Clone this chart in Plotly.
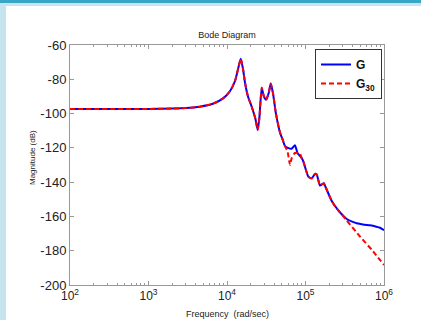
import plotly.graph_objects as go

# frequency (rad/sec) and magnitude (dB)
freq_G = [100, 1000, 2000, 3000, 4500, 6600, 9000, 10900, 12650, 14000, 14960, 16000,
          16960, 18500, 20640, 23000, 24600, 25800, 27700, 29500, 31400, 34000, 36060,
          38500, 42000, 47300, 51000, 54800, 59800, 66700, 73400, 79000, 84000, 89500,
          94000, 108700, 120000, 132000, 139000, 153000, 165000, 172000, 177000,
          216000, 262000, 300000, 335000, 400000, 449000, 560000, 664000, 800000,
          889000, 1000000]
mag_G = [-97.3, -97.3, -97.1, -96.8, -96.0, -94.3, -91.0, -87.0, -81.0, -73.0, -68.0, -74.0,
         -82.0, -90.0, -96.0, -103.0, -109.5, -103.0, -85.0, -90.0, -92.0, -88.0, -82.5,
         -88.0, -100.0, -111.0, -115.0, -119.0, -120.0, -120.5, -118.5, -123.0, -124.5, -126.0,
         -128.0, -136.8, -137.8, -135.2, -135.5, -142.0, -141.0, -140.7, -142.0,
         -151.0, -156.5, -159.5, -161.5, -163.2, -164.0, -164.8, -165.2, -166.0,
         -166.6, -168.0]

freq_G30 = [100, 1000, 2000, 3000, 4500, 6600, 9000, 10900, 12650, 14000, 14960, 16000,
            16960, 18500, 20640, 23000, 24600, 25800, 27700, 29500, 31400, 34000, 36060,
            38500, 42000, 47300, 51000, 54800, 59000, 63500, 66700, 73400, 84000, 89500,
            94000, 108700, 120000, 132000, 139000, 153000, 165000, 172000, 177000,
            216000, 240000, 330000, 500000, 700000, 1000000]
mag_G30 = [-97.3, -97.3, -97.1, -96.8, -96.0, -94.3, -91.0, -87.0, -81.0, -73.0, -68.0, -74.0,
           -82.0, -90.0, -96.0, -103.0, -109.5, -103.0, -85.0, -90.0, -92.0, -88.0, -82.5,
           -88.0, -100.0, -111.0, -115.0, -119.0, -122.0, -130.0, -126.0, -123.0, -123.0, -126.0,
           -128.0, -136.8, -137.8, -135.2, -135.5, -142.0, -141.0, -140.7, -142.0,
           -151.0, -154.3, -162.0, -172.0, -179.5, -188.3]

x_tick_vals = [100, 1000, 10000, 100000, 1000000]
x_tick_text = ["10<sup>2</sup>", "10<sup>3</sup>", "10<sup>4</sup>", "10<sup>5</sup>", "10<sup>6</sup>"]
x_minor_vals = [k * 10 ** d for d in range(2, 6) for k in range(2, 10)]
y_tick_vals = [-60, -80, -100, -120, -140, -160, -180, -200]
y_tick_text = ["-60", "-80", "-100", "-120", "-140", "-160", "-180", "-200"]

fig = go.Figure()
fig.add_trace(go.Scatter(x=freq_G, y=mag_G, mode="lines", name="<b>G</b>",
                         line=dict(color="#0000ff", width=2, shape="spline", smoothing=0.5)))
fig.add_trace(go.Scatter(x=freq_G30, y=mag_G30, mode="lines", name="<b>G<sub>30</sub></b>",
                         line=dict(color="#ff0000", width=2, dash="5px,3px", shape="spline", smoothing=0.5)))

axis_col = "#999999"
fig.update_layout(
    width=421, height=320,
    margin=dict(l=70, r=37, t=45, b=35),
    paper_bgcolor="white", plot_bgcolor="white",
    font=dict(family="Liberation Sans, Arial, sans-serif", color="#222222"),
    title=dict(text="Bode Diagram", x=227 / 421, xanchor="center", y=1 - 35 / 320, yanchor="middle",
               font=dict(size=9, color="#222222")),
    showlegend=True,
    legend=dict(x=(315 - 70) / 314, y=(285 - 49) / 240, xanchor="left", yanchor="top",
                bgcolor="white", bordercolor="#333333", borderwidth=1,
                font=dict(size=12, color="#111111"), tracegroupgap=0, itemwidth=30),
    xaxis=dict(type="log", range=[2, 6], tickmode="array", tickvals=x_tick_vals, ticktext=x_tick_text,
               showgrid=False, zeroline=False, showline=True, linecolor=axis_col, linewidth=1,
               mirror="ticks", ticks="inside", ticklen=4, tickcolor=axis_col,
               tickfont=dict(size=12),
               minor=dict(tickmode="array", tickvals=x_minor_vals, ticks="inside", ticklen=2,
                          tickcolor=axis_col, showgrid=False)),
    yaxis=dict(range=[-200, -60], tickmode="array", tickvals=y_tick_vals, ticktext=y_tick_text,
               showgrid=False, zeroline=False, showline=True, linecolor=axis_col, linewidth=1,
               mirror="ticks", ticks="inside", ticklen=4, tickcolor=axis_col,
               tickfont=dict(size=13)),
    shapes=[
        dict(type="rect", xref="paper", yref="paper", x0=-70 / 314, x1=-64 / 314, y0=-35 / 240, y1=1 + 45 / 240,
             fillcolor="#c5e4ee", line=dict(width=0), layer="below"),
        dict(type="rect", xref="paper", yref="paper", x0=-70 / 314, x1=1 + 37 / 314, y0=1 + 39 / 240, y1=1 + 45 / 240,
             fillcolor="#c5e4ee", line=dict(width=0), layer="below"),
        dict(type="rect", xref="paper", yref="paper", x0=-70 / 314, x1=1 + 37 / 314, y0=1 + 42 / 240, y1=1 + 45 / 240,
             fillcolor="#3aa6c6", line=dict(width=0), layer="below"),
    ],
    annotations=[
        dict(text="Magnitude (dB)", xref="paper", yref="paper", x=(32 - 70) / 314, y=(285 - 158) / 240,
             xanchor="center", yanchor="middle", textangle=-90, showarrow=False,
             font=dict(size=8, color="#222222")),
        dict(text="Frequency\u00a0\u00a0(rad/sec)", xref="paper", yref="paper", x=0.5, y=(285 - 314) / 240,
             xanchor="center", yanchor="middle", showarrow=False,
             font=dict(size=9, color="#222222")),
    ],
)

fig.write_html("out.html", config={"displayModeBar": False},
               post_script="document.body.style.margin='0px';document.body.style.overflow='hidden';")
